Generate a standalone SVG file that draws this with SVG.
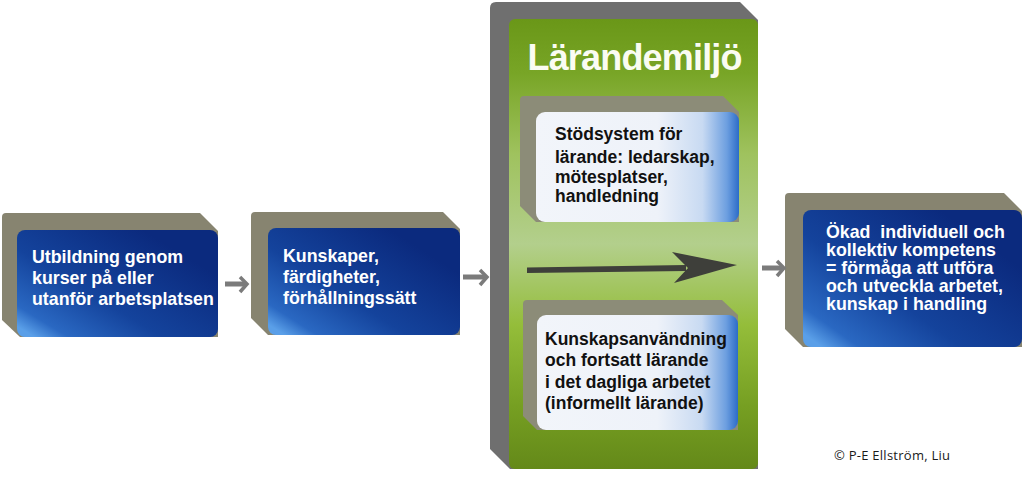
<svg xmlns="http://www.w3.org/2000/svg" width="1024" height="480" viewBox="0 0 1024 480">
<defs>
<linearGradient id="blueG" x1="0" y1="0.9" x2="0.8" y2="0.2">
<stop offset="0" stop-color="#5a9fe8"/>
<stop offset="0.12" stop-color="#2a68c2"/>
<stop offset="0.45" stop-color="#14439c"/>
<stop offset="1" stop-color="#0b2a7e"/>
</linearGradient>
<linearGradient id="whiteG" x1="0" y1="0" x2="1" y2="0">
<stop offset="0" stop-color="#f2f5fa"/>
<stop offset="0.6" stop-color="#eef2f9"/>
<stop offset="0.82" stop-color="#c8daf2"/>
<stop offset="0.94" stop-color="#6d9fe0"/>
<stop offset="1" stop-color="#2c6cc8"/>
</linearGradient>
<linearGradient id="greenG" x1="0" y1="0" x2="0" y2="1">
<stop offset="0" stop-color="#6a9718"/>
<stop offset="0.12" stop-color="#78a526"/>
<stop offset="0.3" stop-color="#9fc25e"/>
<stop offset="0.5" stop-color="#b3cf8c"/>
<stop offset="0.68" stop-color="#94bd3a"/>
<stop offset="0.86" stop-color="#769f22"/>
<stop offset="1" stop-color="#648919"/>
</linearGradient>
<style>
.shadow{fill:#878470}
.ishadow{fill:#8c8c78}
.front{fill:url(#blueG)}
.wfront{fill:url(#whiteG)}
.wt{font-family:"Liberation Sans",Arial,sans-serif;font-weight:bold;font-size:17.8px;fill:#ffffff}
.bt{font-family:"Liberation Sans",Arial,sans-serif;font-weight:bold;font-size:17.5px;fill:#111111}
.conn{stroke:#7b7b7b;stroke-width:5;fill:none}
.head{stroke:#7b7b7b;stroke-width:3.5;fill:none;stroke-linejoin:miter}
</style>
</defs>
<rect width="1024" height="480" fill="#ffffff"/>

<g id="node-utbildning">
<path class="shadow" d="M6,213 L200,213 L218,231 L218,337 L20,337 L2,320 L2,217 Q2,213 6,213 Z"/>
<rect class="front" x="17" y="230" width="201" height="107" rx="8"/>
<text class="wt"><tspan x="32" y="263">Utbildning genom</tspan><tspan x="32" y="284">kurser på eller</tspan><tspan x="32" y="305">utanför arbetsplatsen</tspan></text>
</g>

<g id="node-kunskaper">
<path class="shadow" d="M255,212 L443,212 L460,229 L460,335 L268,335 L251,318 L251,216 Q251,212 255,212 Z"/>
<rect class="front" x="268" y="228" width="192" height="107" rx="8"/>
<text class="wt"><tspan x="283" y="262">Kunskaper,</tspan><tspan x="283" y="283">färdigheter,</tspan><tspan x="283" y="304">förhållningssätt</tspan></text>
</g>

<g id="node-larandemiljo">
<path fill="#6f6f6f" d="M496,2 L740,2 L758,20 L758,469 L510,469 L490,449 L490,8 Q490,2 496,2 Z"/>
<rect x="509" y="19" width="249" height="450" rx="6" fill="url(#greenG)"/>
<text x="635" y="70" text-anchor="middle" textLength="215" font-family="Liberation Sans,Arial,sans-serif" font-weight="bold" font-size="36" fill="#fafcf2">Lärandemiljö</text>
</g>

<g id="node-stodsystem">
<path class="ishadow" d="M524,96 L723,96 L739,112 L739,222 L536,222 L520,206 L520,100 Q520,96 524,96 Z"/>
<rect class="wfront" x="536" y="112" width="203" height="110" rx="9"/>
<text class="bt"><tspan x="555" y="140">Stödsystem för</tspan><tspan x="555" y="163">lärande: ledarskap,</tspan><tspan x="555" y="183">mötesplatser,</tspan><tspan x="555" y="202">handledning</tspan></text>
</g>

<g id="node-kunskapsanvandning">
<path class="ishadow" d="M527,300 L722,300 L738,315 L738,430 L537,430 L523,416 L523,304 Q523,300 527,300 Z"/>
<rect class="wfront" x="537" y="315" width="201" height="115" rx="9"/>
<text class="bt"><tspan x="545" y="345">Kunskapsanvändning</tspan><tspan x="545" y="366">och fortsatt lärande</tspan><tspan x="545" y="388">i det dagliga arbetet</tspan><tspan x="545" y="409">(informellt lärande)</tspan></text>
</g>

<g id="node-kompetens">
<path class="shadow" d="M789,193 L1004,193 L1022,211 L1022,347 L803,347 L785,329 L785,197 Q785,193 789,193 Z"/>
<rect class="front" x="803" y="210" width="219" height="137" rx="8"/>
<text class="wt" style="white-space:pre"><tspan x="826" y="238">Ökad  individuell och</tspan><tspan x="826" y="256">kollektiv kompetens</tspan><tspan x="826" y="274">= förmåga att utföra</tspan><tspan x="826" y="292">och utveckla arbetet,</tspan><tspan x="826" y="310">kunskap i handling</tspan></text>
</g>

<g id="connectors">
<line class="conn" x1="225" y1="284" x2="245" y2="284"/>
<polyline class="head" points="240,277 247,284 240,292"/>
<line class="conn" x1="463" y1="277" x2="485" y2="277"/>
<polyline class="head" points="480,270 487,277 480,285"/>
<line class="conn" x1="762" y1="268" x2="782" y2="268"/>
<polyline class="head" points="777,261 784,268 777,276"/>
<path d="M527,267.5 L686,265 L686,271 L527,273 Z" fill="#3e3f3a"/>
<path d="M737,265 L672,252 L688,268 L674,283 Z" fill="#3e3f3a"/>
</g>

<text x="834" y="460" font-family="Open Sans,Liberation Sans,sans-serif" font-size="13" textLength="116" fill="#1a1a1a">© P-E Ellström, Liu</text>
</svg>
